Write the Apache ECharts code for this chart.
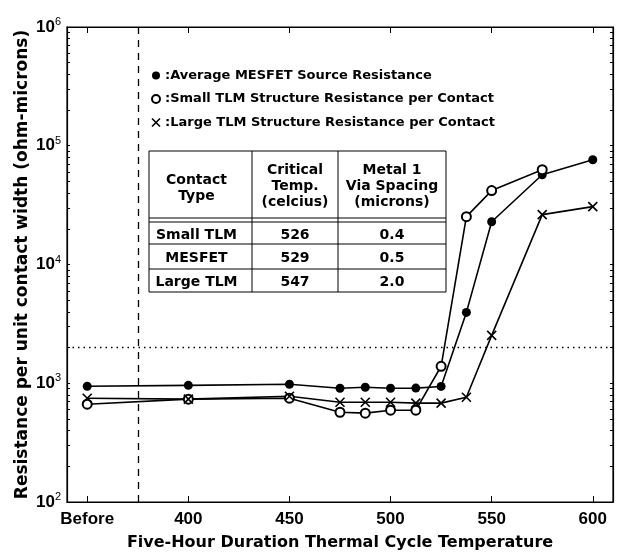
<!DOCTYPE html>
<html><head><meta charset="utf-8">
<script src="https://cdn.jsdelivr.net/npm/echarts@6/dist/echarts.min.js"></script>
<style>html,body{margin:0;padding:0;background:#fff}#c{width:618px;height:554px}</style>
</head><body><div id="c"></div>
<script>
// ---- data ----
const xTickValues = [350, 400, 450, 500, 550, 600];
const xTickLabels = ['Before', '400', '450', '500', '550', '600'];
const temps = [350, 400, 450, 475, 487.5, 500, 512.5, 525, 537.5, 550, 575, 600];
const mesfet = [944, 960, 980, 908, 925, 908, 910, 940, 3950, 22900, 57000, 76200];
const smallTLM = [666, 735, 748, 570, 560, 593, 593, 1390, 25300, 41900, 62800];
const largeTLM = [748, 735, 777, 692, 692, 692, 680, 680, 763, 2530, 26300, 30700];
const seriesNames = ['Average MESFET Source Resistance', 'Small TLM Structure Resistance per Contact', 'Large TLM Structure Resistance per Contact'];
const yExponents = [2, 3, 4, 5, 6];
const dashedX = 375;
const dottedY = 2000;
const tableHeader = ['Contact\nType', 'Critical\nTemp.\n(celcius)', 'Metal 1\nVia Spacing\n(microns)'];
const tableRows = [['Small TLM', '526', '0.4'], ['MESFET', '529', '0.5'], ['Large TLM', '547', '2.0']];

// ---- build ----
const pairs = (vals) => vals.map((v, i) => [temps[i], v]);
const yTicks = [];
for (let e = 2; e <= 5; e++) for (let m = 1; m <= 9; m++) yTicks.push(m * Math.pow(10, e));
yTicks.push(1e6);
const FONT = '"Liberation Sans", Arial, sans-serif';
const WFONT = '"DejaVu Sans", sans-serif';
const X_PATH = 'path://M0,0 L10,10 M10,0 L0,10';

const chart = echarts.init(document.getElementById('c'));

// table graphic
const tX = [149, 252, 338, 446];
const tY = [151, 218, 222, 244, 269, 292];
const g = [];
const L = (x1, y1, x2, y2) => g.push({ type: 'line', shape: { x1, y1, x2, y2 }, style: { stroke: '#000', lineWidth: 1 } });
L(tX[0], tY[0], tX[3], tY[0]);
tY.slice(1).forEach(y => L(tX[0], y, tX[3], y));
tX.forEach(x => L(x, tY[0], x, tY[5]));
const colC = [(tX[0] + tX[1]) / 2 - 4, (tX[1] + tX[2]) / 2, (tX[2] + tX[3]) / 2];
tableHeader.forEach((t, i) => g.push({ type: 'text', x: colC[i], y: (tY[0] + tY[1]) / 2 + (i === 0 ? 4 : 2), style: { text: t, fill: '#000', font: 'bold 14px ' + WFONT, align: 'center', verticalAlign: 'middle', lineHeight: 16 } }));
tableRows.forEach((r, ri) => {
  const yc = (tY[ri + 2] + tY[ri + 3]) / 2 + 2;
  r.forEach((t, ci) => g.push({ type: 'text', x: colC[ci], y: yc, style: { text: t, fill: '#000', font: 'bold 14px ' + WFONT, align: 'center', verticalAlign: 'middle' } }));
});

const axisCommon = {
  axisLine: { show: true, lineStyle: { color: '#000', width: 1.2 } },
  splitLine: { show: false }
};

chart.setOption({
  animation: false,
  backgroundColor: '#fff',
  grid: { left: 67, right: 5, top: 27, bottom: 52, show: true, borderColor: '#000', borderWidth: 1.2, outerBoundsMode: 'none', containLabel: false },
  legend: {
    orient: 'vertical', left: 151, top: 69, padding: 0, itemGap: 10.5, itemWidth: 8, itemHeight: 8,
    selectedMode: false,
    textStyle: { fontFamily: WFONT, fontWeight: 'bold', fontSize: 13, color: '#000' },
    formatter: n => ':' + n,
    data: [
      { name: seriesNames[0], icon: 'circle', itemStyle: { color: '#000' } },
      { name: seriesNames[1], icon: 'emptyCircle', itemStyle: { color: '#000', borderColor: '#000', borderWidth: 1.6 } },
      { name: seriesNames[2], icon: X_PATH, itemStyle: { color: '#000', borderColor: '#000', borderWidth: 1.6 } }
    ]
  },
  xAxis: [{
    type: 'value', min: 340, max: 610, ...axisCommon,
    name: 'Five-Hour Duration Thermal Cycle Temperature', nameLocation: 'middle', nameGap: 33,
    nameTextStyle: { fontFamily: WFONT, fontWeight: 'bold', fontSize: 16, color: '#000' },
    axisTick: { inside: true, length: 6, lineStyle: { color: '#000' }, customValues: xTickValues.concat([dashedX]) },
    axisLabel: { customValues: xTickValues, margin: 9, fontFamily: FONT, fontWeight: 'bold', fontSize: 17, color: '#000',
      formatter: v => xTickLabels[xTickValues.indexOf(v)] }
  }, {
    type: 'value', min: 340, max: 610, position: 'top', ...axisCommon,
    axisTick: { inside: true, length: 6, lineStyle: { color: '#000' }, customValues: xTickValues.concat([dashedX]) },
    axisLabel: { show: false }
  }],
  yAxis: [{
    type: 'log', logBase: 10, min: 100, max: 1e6, ...axisCommon,
    name: 'Resistance per unit contact width (ohm-microns)', nameLocation: 'middle', nameGap: 36, nameMoveOverlap: false,
    nameTextStyle: { fontFamily: WFONT, fontWeight: 'bold', fontSize: 17, color: '#000' },
    axisTick: { inside: true, length: 3, lineStyle: { color: '#000' }, customValues: yTicks },
    axisLabel: { customValues: yExponents.map(e => Math.pow(10, e)), margin: 6, color: '#000',
      formatter: v => '{b|10}{s|' + Math.round(Math.log10(v)) + '}',
      rich: { b: { fontFamily: FONT, fontWeight: 'bold', fontSize: 17, color: '#000' },
              s: { fontFamily: FONT, fontSize: 11, color: '#000', verticalAlign: 'top', padding: [0, 0, 10, 0] } } }
  }, {
    type: 'log', logBase: 10, min: 100, max: 1e6, position: 'right', ...axisCommon,
    axisTick: { inside: true, length: 3, lineStyle: { color: '#000' }, customValues: yTicks },
    axisLabel: { show: false }
  }],
  graphic: g,
  series: [
    { name: seriesNames[0], type: 'line', data: pairs(mesfet), symbol: 'circle', symbolSize: 9,
      itemStyle: { color: '#000' }, lineStyle: { color: '#000', width: 1.6 },
      markLine: { silent: true, symbol: 'none', label: { show: false },
        data: [{ xAxis: dashedX, lineStyle: { type: [7, 6], color: '#000', width: 1.3 } },
               { yAxis: dottedY, lineStyle: { type: [1.5, 4], color: '#000', width: 1.3 } }] } },
    { name: seriesNames[1], type: 'line', data: pairs(smallTLM), symbol: 'emptyCircle', symbolSize: 9,
      itemStyle: { color: '#000', borderColor: '#000', borderWidth: 1.6 }, lineStyle: { color: '#000', width: 1.6 } },
    { name: seriesNames[2], type: 'line', data: pairs(largeTLM), symbol: X_PATH, symbolSize: 9,
      itemStyle: { color: '#000', borderColor: '#000', borderWidth: 1.6 }, lineStyle: { color: '#000', width: 1.6 } }
  ]
});
</script></body></html>
